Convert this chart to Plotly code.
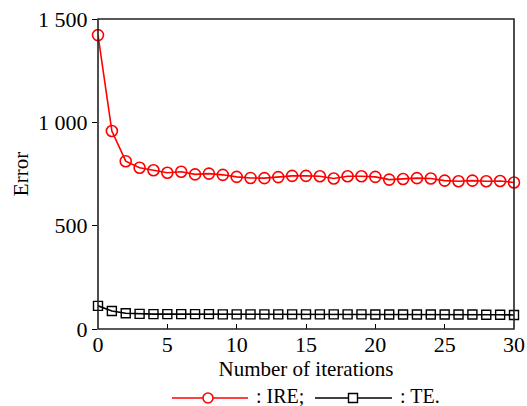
import plotly.graph_objects as go

iterations = list(range(31))
ire = [1422, 958, 812, 780, 768, 756, 761, 748, 752, 746, 736, 731, 730, 735, 741,
       741, 739, 728, 739, 739, 736, 723, 726, 730, 728, 718, 715, 718, 715, 716, 709]
te = [112, 87, 76, 73, 72, 72, 72, 72, 72, 71, 71, 71, 71, 71, 71,
      71, 71, 71, 71, 71, 70, 70, 70, 70, 70, 70, 70, 70, 69, 69, 68]
y_ticks = [0, 500, 1000, 1500]
y_ticktext = ["0", "500", "1 000", "1 500"]
x_ticks = [0, 5, 10, 15, 20, 25, 30]

FONT = "Liberation Serif"
W, H = 527, 406
ML, MR, MT, MB = 98, 13, 19, 77
PW, PH = W - ML - MR, H - MT - MB

fig = go.Figure()
fig.add_trace(go.Scatter(x=iterations, y=ire, mode="lines+markers", name="IRE",
                         line=dict(color="#ff0000", width=1.6),
                         marker=dict(symbol="circle-open", size=11, color="#ff0000",
                                     line=dict(width=1.6, color="#ff0000")),
                         cliponaxis=False))
fig.add_trace(go.Scatter(x=iterations, y=te, mode="lines+markers", name="TE",
                         line=dict(color="#000000", width=1.6),
                         marker=dict(symbol="square-open", size=9, color="#000000",
                                     line=dict(width=1.4, color="#000000")),
                         cliponaxis=False))

def px_x(p):
    return (p - ML) / PW

def px_y(p):
    return (H - MB - p) / PH

shapes = [
    dict(type="rect", xref="paper", yref="paper", x0=0, x1=1, y0=0, y1=1,
         line=dict(color="#222222", width=1.6), layer="above"),
]
ly = px_y(398)
# legend IRE
shapes.append(dict(type="line", xref="paper", yref="paper", x0=px_x(172), x1=px_x(248),
                   y0=ly, y1=ly, line=dict(color="#ff0000", width=1.6)))
shapes.append(dict(type="circle", xref="paper", yref="paper", xsizemode="pixel", ysizemode="pixel",
                   xanchor=px_x(208), yanchor=ly, x0=-5, x1=5, y0=-5, y1=5,
                   line=dict(color="#ff0000", width=1.6), fillcolor="white"))
# legend TE
shapes.append(dict(type="line", xref="paper", yref="paper", x0=px_x(315), x1=px_x(392),
                   y0=ly, y1=ly, line=dict(color="#000000", width=1.6)))
shapes.append(dict(type="rect", xref="paper", yref="paper", xsizemode="pixel", ysizemode="pixel",
                   xanchor=px_x(353), yanchor=ly, x0=-4.5, x1=4.5, y0=-4.5, y1=4.5,
                   line=dict(color="#000000", width=1.4), fillcolor="white"))

ty = px_y(395.5)
annotations = [
    dict(text=": IRE;", xref="paper", yref="paper", x=px_x(255), y=ty, xanchor="left",
         yanchor="middle", showarrow=False, borderpad=0,
         font=dict(family=FONT, size=20, color="black")),
    dict(text=": TE.", xref="paper", yref="paper", x=px_x(399), y=ty, xanchor="left",
         yanchor="middle", showarrow=False, borderpad=0,
         font=dict(family=FONT, size=20, color="black")),
]

fig.update_layout(
    width=W, height=H,
    margin=dict(l=ML, r=MR, t=MT, b=MB),
    paper_bgcolor="white", plot_bgcolor="white",
    showlegend=False,
    font=dict(family=FONT, size=21, color="black"),
    shapes=shapes, annotations=annotations,
    xaxis=dict(range=[0, 30], tickvals=x_ticks, ticks="inside", ticklen=5, tickwidth=1.2,
               tickcolor="black", showgrid=False, zeroline=False, showline=False,
               automargin=False,
               tickfont=dict(family=FONT, size=22),
               title=dict(text="Number of iterations", font=dict(family=FONT, size=21), standoff=2)),
    yaxis=dict(range=[0, 1500], tickvals=y_ticks, ticktext=y_ticktext, ticks="outside", ticklen=5,
               tickwidth=1.2, tickcolor="black", showgrid=False, zeroline=False, showline=False,
               automargin=False,
               tickfont=dict(family=FONT, size=22),
               title=dict(text="Error", font=dict(family=FONT, size=21), standoff=3)),
)

fig.write_html("out.html")
